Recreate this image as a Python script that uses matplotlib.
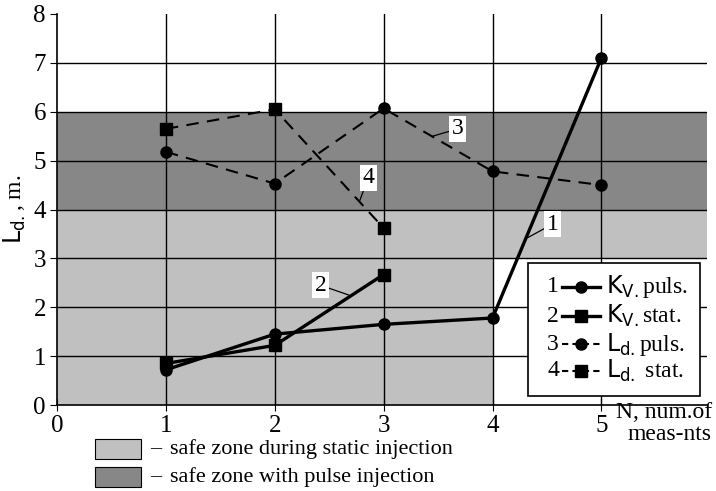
import matplotlib.pyplot as plt
from matplotlib.patches import Rectangle
from matplotlib.lines import Line2D

plt.rcParams['font.family'] = ['Liberation Serif', 'DejaVu Serif']
plt.rcParams['mathtext.fontset'] = 'dejavusans'

# data
x_kv_puls = [1, 2, 3, 4, 5]
kv_puls = [0.72, 1.45, 1.65, 1.78, 7.1]
x_kv_stat = [1, 2, 3]
kv_stat = [0.85, 1.22, 2.67]
x_ld_puls = [1, 2, 3, 4, 5]
ld_puls = [5.18, 4.53, 6.07, 4.78, 4.5]
x_ld_stat = [1, 2, 3]
ld_stat = [5.65, 6.05, 3.62]

legend_labels = [r"$\mathrm{K_{V.}}$puls.", r"$\mathrm{K_{V.}}$stat.",
                 r"$\mathrm{L_{d.}}$puls.", r"$\mathrm{L_{d.}}$ stat."]
zone_labels = ["safe zone during static injection", "safe zone with pulse injection"]

light = '#c0c0c0'
dark = '#878787'
xmax = 5.97

fig = plt.figure(figsize=(7.16, 4.91), dpi=100)
ax = fig.add_axes([57/716, 1-405/491, (707-57)/716, (405-14)/491])
ax.set_xlim(0, xmax)
ax.set_ylim(0, 8)

# zones
ax.add_patch(Rectangle((0, 0), 4, 4, facecolor=light, edgecolor='none', zorder=0))
ax.add_patch(Rectangle((4, 3), xmax-4, 1, facecolor=light, edgecolor='none', zorder=0))
ax.add_patch(Rectangle((0, 4), xmax, 2, facecolor=dark, edgecolor='none', zorder=0))

# grid
for yy in range(1, 8):
    ax.axhline(yy, color='black', lw=1.0, zorder=1)
for xx in range(1, 6):
    ax.axvline(xx, color='black', lw=1.0, zorder=1)

# series
ax.plot(x_kv_puls, kv_puls, 'k-', lw=2.4, marker='o', ms=8, zorder=3)
ax.plot(x_kv_stat, kv_stat, 'k-', lw=2.4, marker='s', ms=8, zorder=3)
ax.plot(x_ld_puls, ld_puls, 'k--', lw=1.5, dashes=(6, 4), marker='o', ms=8, zorder=3)
ax.plot(x_ld_stat, ld_stat, 'k--', lw=1.5, dashes=(6, 4), marker='s', ms=8, zorder=3)

# number tags
box = dict(boxstyle='square,pad=0.1', fc='white', ec='none')
arr = dict(arrowstyle='-', lw=0.9, color='black', shrinkA=0, shrinkB=0)
ax.annotate('1', xy=(4.32, 3.42), xytext=(4.55, 3.7), fontsize=17, ha='center', va='center', bbox=box, arrowprops=arr, zorder=4)
ax.annotate('2', xy=(2.68, 2.25), xytext=(2.42, 2.45), fontsize=17, ha='center', va='center', bbox=box, arrowprops=arr, zorder=4)
ax.annotate('3', xy=(3.45, 5.5), xytext=(3.68, 5.65), fontsize=17, ha='center', va='center', bbox=box, arrowprops=arr, zorder=4)
ax.annotate('4', xy=(2.78, 4.18), xytext=(2.86, 4.65), fontsize=17, ha='center', va='center', bbox=box, arrowprops=arr, zorder=4)

# axes styling
ax.spines['top'].set_visible(False)
ax.spines['right'].set_visible(False)
ax.spines['left'].set_linewidth(1.2)
ax.spines['bottom'].set_linewidth(1.2)
ax.set_xticks(range(0, 6))
ax.set_yticks(range(0, 9))
ax.tick_params(axis='x', direction='inout', length=8, labelsize=18, pad=3)
ax.tick_params(axis='y', direction='out', length=5, labelsize=18, pad=3)
ax.set_ylabel(r"$\mathrm{L_{d.}}$, m.", fontsize=17, labelpad=4)

fig.text(712/716, 1-413/491, "N, num.of", fontsize=17, ha='right', va='center')
fig.text(712/716, 1-434/491, "meas-nts", fontsize=17, ha='right', va='center')

# legend box drawn by hand
fig.patches.append(Rectangle((528/716, 1-396/491), 172/716, 133/491, transform=fig.transFigure,
                             facecolor='white', edgecolor='black', lw=1.2, zorder=5))
rows_y = [287, 316, 344, 371]
styles = [('-', 'o', 2.4), ('-', 's', 2.4), ('--', 'o', 1.5), ('--', 's', 1.5)]
for i in range(4):
    yf = 1 - rows_y[i]/491
    fig.text(553/716, yf, str(i+1), fontsize=17, ha='center', va='center', zorder=6)
    ls, mk, lw = styles[i]
    ln = Line2D([562/716, 600/716], [yf, yf], transform=fig.transFigure, color='black',
                ls=ls, lw=lw, zorder=6)
    if ls == '--':
        ln.set_dashes((3, 2))
    fig.lines.append(ln)
    fig.lines.append(Line2D([581/716], [yf], transform=fig.transFigure, color='black',
                            marker=mk, ms=8, zorder=6))
    fig.text(606/716, yf, legend_labels[i], fontsize=17, ha='left', va='center', zorder=6)

# zone legend below the plot
zone_y = [449, 477]
zone_c = [light, dark]
for i in range(2):
    fig.patches.append(Rectangle((95/716, 1-(zone_y[i]+10)/491), 46/716, 20/491,
                                 transform=fig.transFigure, facecolor=zone_c[i],
                                 edgecolor='black', lw=0.8))
    fig.text(150/716, 1-zone_y[i]/491, "–", fontsize=16, ha='left', va='center')
    fig.text(170/716, 1-zone_y[i]/491, zone_labels[i], fontsize=16, ha='left', va='center')

fig.savefig('out.png', dpi=100)
